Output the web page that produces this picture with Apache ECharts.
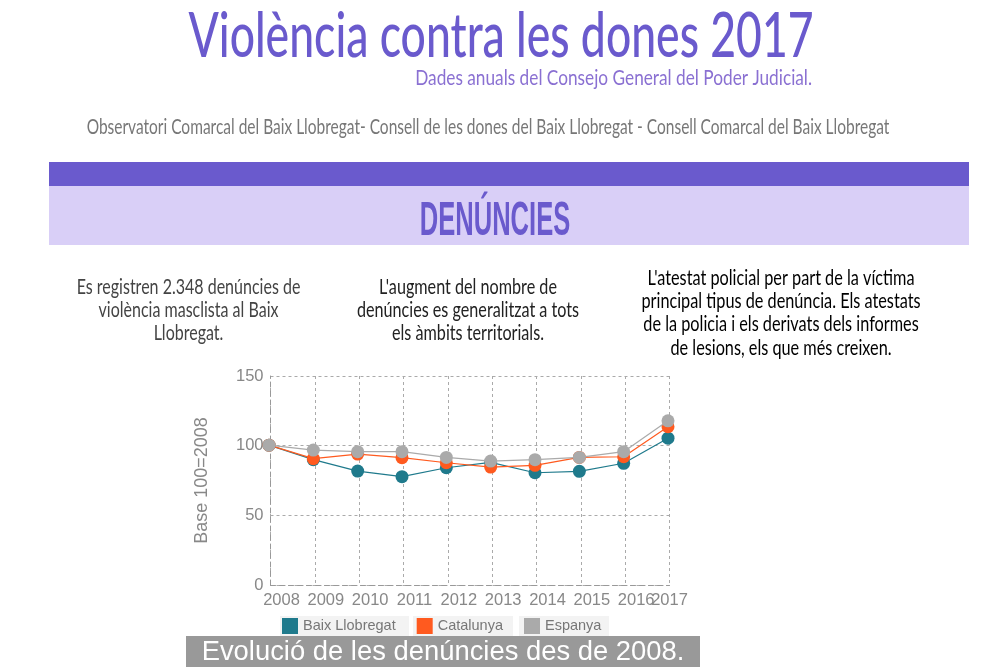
<!DOCTYPE html>
<html><head><meta charset="utf-8">
<style>html,body{margin:0;padding:0;background:#fff}#c{width:999px;height:672px}</style>
<script src="https://cdn.jsdelivr.net/npm/echarts@6/dist/echarts.min.js"></script>
</head><body><div id="c"></div>
<script>
const years = ['2008','2009','2010','2011','2012','2013','2014','2015','2016','2017'];
const yTicks = [0,50,100,150];
const baix = [100,89.6,81.4,77.4,83.8,87.6,80.2,81.2,87,105];
const catalunya = [100,90.3,93.6,91,87.4,84.3,85.5,91.2,91.7,113.2];
const espanya = [100,96.5,95.3,95.3,91.2,88.6,89.6,91.2,95.3,117.5];
const seriesNames = ['Baix Llobregat','Catalunya','Espanya'];
const seriesColors = ['#1f7a8c','#ff5a1f','#aaaaaa'];

const chart = echarts.init(document.getElementById('c'), null, {renderer:'canvas'});
const ff = 'Lato, sans-serif';
function t(text,x,y,size,color,align,sx,family,weight){
  return {type:'text',x,y,scaleX:sx||1,z:10,style:{text,fill:color,align:align||'center',verticalAlign:'middle',
    font:(weight||'normal')+' '+size+'px '+(family||ff)}};
}
function r(x,y,w,h,fill,z){return {type:'rect',z:z||1,shape:{x,y,width:w,height:h},style:{fill}};}
const P='#6a5acd';
const graphics=[
  r(49,162,920,24,P), r(49,186,920,59,'#d9cff7'), r(186,636,514,31,'#999999',20),
  r(280,616,129,21,'#f3f3f3'), r(413,616,100,21,'#f3f3f3'), r(519,616,90,21,'#f3f3f3'),
  t('Violència contra les dones 2017',501,37,62,P,'center',0.718,ff,'500'),
  t('Dades anuals del Consejo General del Poder Judicial.',812,78,22,'#8a70d2','right',0.784),
  t('Observatori Comarcal del Baix Llobregat- Consell de les dones del Baix Llobregat - Consell Comarcal del Baix Llobregat',488,127,21,'#777777','center',0.738),
  t('DENÚNCIES',495,222,48,P,'center',0.532,'"Liberation Sans"','bold'),
  t('Es registren 2.348 denúncies de',188.5,287,21,'#444444','center',0.763),
  t('violència masclista al Baix',188.5,310,21,'#444444','center',0.763),
  t('Llobregat.',188.5,333,21,'#444444','center',0.763),
  t("L'augment del nombre de",468,287,21,'#222222','center',0.77),
  t('denúncies es generalitzat a tots',468,310,21,'#222222','center',0.77),
  t('els àmbits territorials.',468,333,21,'#222222','center',0.77),
  t("L'atestat policial per part de la víctima",781,278,21,'#000000','center',0.774),
  t('principal tipus de denúncia. Els atestats',781,301,21,'#000000','center',0.774),
  t('de la policia i els derivats dels informes',781,324,21,'#000000','center',0.774),
  t('de lesions, els que més creixen.',781,348,21,'#000000','center',0.774),
  Object.assign(t('Evolució de les denúncies des de 2008.',443,652,27.4,'#ffffff','center',1,'"Liberation Sans"'),{z:21})
];
const dash={type:[3,3],color:'#aaaaaa',width:1};
const axisDash={type:[5,4],color:'#999999',width:1};
const mk=(name,data,i)=>({name,type:'line',data,xAxisIndex:1,yAxisIndex:1,symbol:'circle',symbolSize:13,
  lineStyle:{color:seriesColors[i],width:1.2},itemStyle:{color:seriesColors[i]},animation:false,z:3+i});
chart.setOption({
  animation:false,
  backgroundColor:'#fff',
  graphic:graphics,
  grid:[
    {left:270.5,top:376,width:399,height:209,containLabel:false},
    {left:269,top:375.5,width:399,height:209}
  ],
  xAxis:[
    {type:'category',gridIndex:0,data:years,boundaryGap:false,
     axisLine:{show:true,lineStyle:axisDash},axisTick:{show:false},
     splitLine:{show:true,lineStyle:dash},
     axisLabel:{interval:0,hideOverlap:false,margin:7,
       formatter:(v,i)=> i===years.length-1 ? '{b|'+v+'}' : '{a|'+v+'}',
       rich:{a:{fontSize:16.5,color:'#888888',fontFamily:'"Liberation Sans"',padding:[0,0,0,22]},
             b:{fontSize:16.5,color:'#888888',fontFamily:'"Liberation Sans"'}}}},
    {type:'category',gridIndex:1,data:years,boundaryGap:false,show:false}
  ],
  yAxis:[
    {type:'value',gridIndex:0,min:yTicks[0],max:yTicks[3],interval:yTicks[1],
     name:'Base 100=2008',nameLocation:'middle',nameGap:59,nameRotate:90,
     nameTextStyle:{fontSize:18,color:'#888888',fontFamily:'"Liberation Sans"'},
     axisLine:{show:true,lineStyle:axisDash},axisTick:{show:false},
     splitLine:{show:true,lineStyle:dash},
     axisLabel:{fontSize:16.5,color:'#888888',fontFamily:'"Liberation Sans"',margin:7}},
    {type:'value',gridIndex:1,min:yTicks[0],max:yTicks[3],interval:yTicks[1],show:false}
  ],
  legend:{left:277,top:613,itemWidth:16,itemHeight:16,itemGap:21,icon:'rect',
    data:seriesNames,textStyle:{fontSize:14.5,color:'#777777',fontFamily:'"Liberation Sans"',padding:[0,0,0,0]}},
  series:[mk(seriesNames[0],baix,0),mk(seriesNames[1],catalunya,1),mk(seriesNames[2],espanya,2)]
});
</script></body></html>
